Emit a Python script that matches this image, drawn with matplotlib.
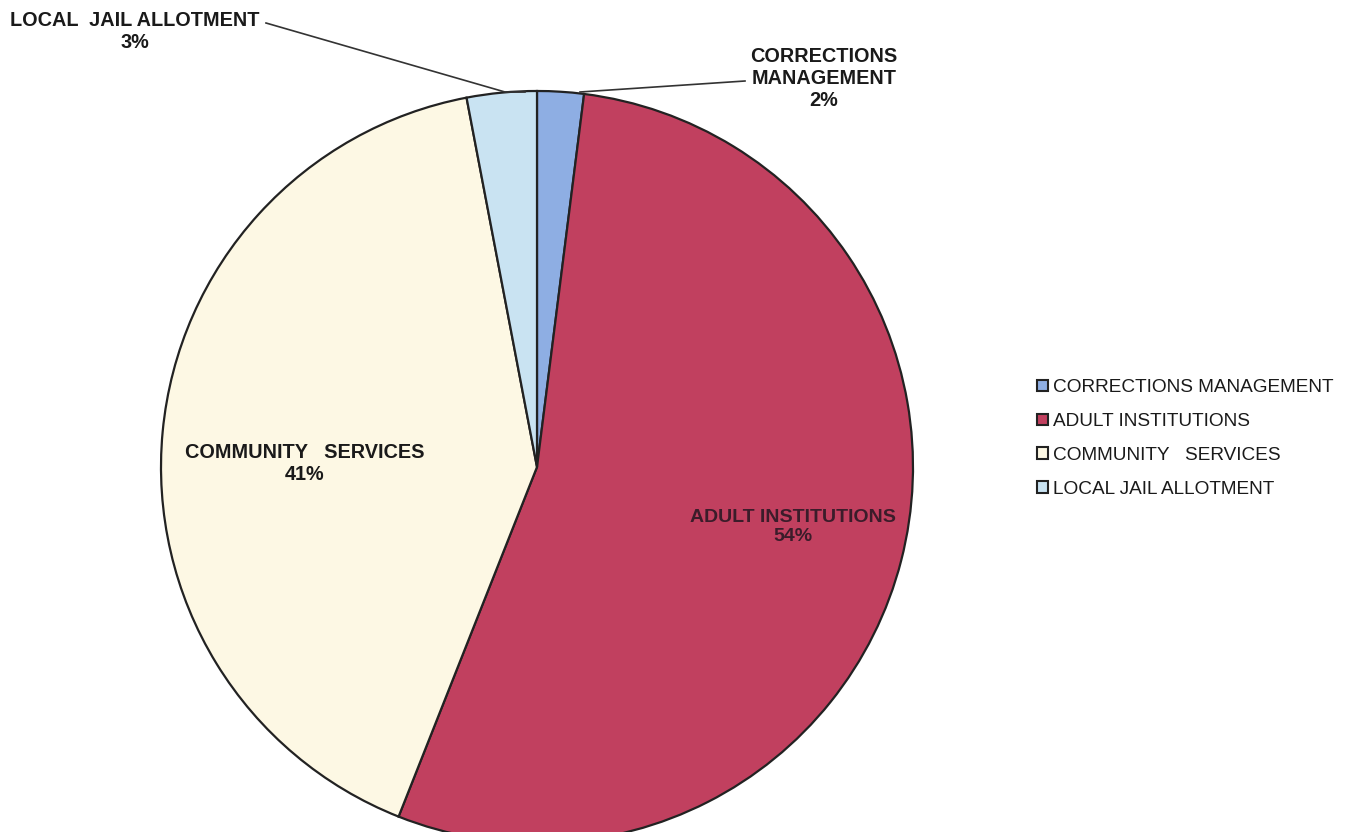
import matplotlib.pyplot as plt
from matplotlib.patches import Patch

plt.rcParams['font.family'] = ['Liberation Sans', 'DejaVu Sans']

# budget shares by program area
programs = ['CORRECTIONS MANAGEMENT', 'ADULT INSTITUTIONS',
            'COMMUNITY   SERVICES', 'LOCAL JAIL ALLOTMENT']
shares = [2, 54, 41, 3]
colors = ['#8eaee3', '#c1405f', '#fdf8e4', '#c9e3f2']

W, H = 1348, 832
fig = plt.figure(figsize=(W / 100, H / 100), dpi=100)
ax = fig.add_axes([0, 0, 1, 1])

# work in pixel-like units, y measured from the top
def Y(y):
    return H - y

cx, cy, r = 537, 467, 376
wedges, _ = ax.pie(shares, colors=colors, startangle=90, counterclock=False,
                   center=(cx, Y(cy)), radius=r,
                   wedgeprops=dict(edgecolor='#222222', linewidth=1.6))

ax.set_xlim(0, W)
ax.set_ylim(0, H)
ax.set_aspect('equal')
ax.axis('off')

lab = dict(ha='center', va='center', fontsize=14.3, fontweight='bold',
           color='#1a1a1a', linespacing=1.2)

# local jail allotment, outside with leader line
ax.text(135, Y(32), f'LOCAL  JAIL ALLOTMENT\n{shares[3]}%', **lab)
ax.plot([266, 505, 525], [Y(23), Y(92), Y(92)], color='#333333', lw=1.2)

# corrections management, outside with leader line
ax.text(824, Y(79), f'CORRECTIONS\nMANAGEMENT\n{shares[0]}%', **lab)
ax.plot([580, 745], [Y(92), Y(81)], color='#333333', lw=1.2)

# labels inside the two big slices
ax.text(305, Y(464), f'COMMUNITY   SERVICES\n{shares[2]}%', **lab)
lab_in = dict(lab, color='#3b1c2a', fontsize=14)
ax.text(793, Y(527), f'ADULT INSTITUTIONS\n{shares[1]}%', **lab_in)

handles = [Patch(facecolor=c, edgecolor='#222222', linewidth=1.5) for c in colors]
leg = ax.legend(handles, programs, loc='upper left',
                bbox_to_anchor=(1024 / W, 1 - 366 / H),
                frameon=False, fontsize=13.7, handlelength=0.55,
                handleheight=0.55, handletextpad=0.3, labelspacing=0.88,
                borderpad=0.2)
for t in leg.get_texts():
    t.set_color('#1a1a1a')

fig.savefig('out.png', dpi=100, facecolor='white')
